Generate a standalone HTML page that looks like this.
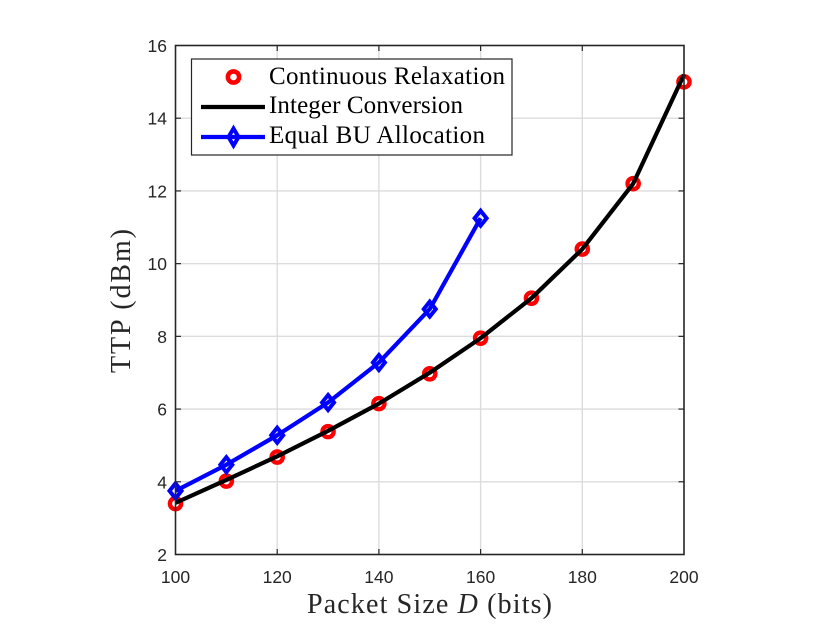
<!DOCTYPE html>
<html>
<head>
<meta charset="utf-8">
<style>
html,body{margin:0;padding:0;background:#fff;width:830px;height:624px;overflow:hidden}
svg{display:block}
.tick{font-family:"Liberation Sans",sans-serif;font-size:17.5px;fill:#262626}
.lab{font-family:"Liberation Serif",serif;fill:#262626}
.leg{font-family:"Liberation Serif",serif;font-size:25px;fill:#000}
</style>
</head>
<body>
<svg id="chart" width="830" height="624" viewBox="0 0 830 624" xmlns="http://www.w3.org/2000/svg">
<rect x="0" y="0" width="830" height="624" fill="#fff"/>
<g id="grid"></g>
<g id="series"></g>
<rect x="175.5" y="45.5" width="508.5" height="509" fill="none" stroke="#262626" stroke-width="1.6"/>
<g id="ticks"></g>
<text class="lab" x="307" y="613" font-size="28" textLength="245" lengthAdjust="spacing">Packet Size <tspan font-style="italic">D</tspan> (bits)</text>
<text class="lab" transform="translate(130,373) rotate(-90)" font-size="28" textLength="144" lengthAdjust="spacing">TTP (dBm)</text>
<g>
<rect x="191.5" y="59" width="320.5" height="96" fill="#fff" stroke="#262626" stroke-width="1.2"/>
<circle cx="233.5" cy="77" r="5.6" fill="none" stroke="#ff0000" stroke-width="4.6"/>
<text class="leg" x="269" y="84" textLength="236" lengthAdjust="spacing">Continuous Relaxation</text>
<line x1="201" y1="107" x2="265" y2="107" stroke="#000" stroke-width="4.2"/>
<text class="leg" x="269" y="113" textLength="194" lengthAdjust="spacing">Integer Conversion</text>
<line x1="201" y1="137" x2="265" y2="137" stroke="#0000ff" stroke-width="4.2"/>
<polygon points="233.5,128.5 238.5,137 233.5,145.5 228.5,137" fill="none" stroke="#0000ff" stroke-width="4"/>
<text class="leg" x="269" y="143" textLength="216" lengthAdjust="spacing">Equal BU Allocation</text>
</g>
</svg>
<script>
const xTicks = [100, 120, 140, 160, 180, 200];
const yTicks = [2, 4, 6, 8, 10, 12, 14, 16];
const relaxX = [100, 110, 120, 130, 140, 150, 160, 170, 180, 190, 200];
const relaxY = [3.4, 4.02, 4.68, 5.38, 6.15, 6.97, 7.95, 9.05, 10.4, 12.2, 15.0];
const integerX = [100, 110, 120, 130, 140, 150, 160, 170, 180, 190, 200];
const integerY = [3.42, 4.05, 4.7, 5.4, 6.15, 7.0, 7.95, 9.05, 10.4, 12.2, 15.2];
const equalX = [100, 110, 120, 130, 140, 150, 160];
const equalY = [3.75, 4.47, 5.28, 6.18, 7.28, 8.75, 11.25];

const NS = 'http://www.w3.org/2000/svg';
const X0 = 175.5, X1 = 684, Y0 = 554.5, Y1 = 45.5;
function sx(v) { return X0 + (v - 100) / (200 - 100) * (X1 - X0); }
function sy(v) { return Y0 - (v - 2) / (16 - 2) * (Y0 - Y1); }
function make(tag, parent, attrs) {
  const el = document.createElementNS(NS, tag);
  for (const k in attrs) el.setAttribute(k, attrs[k]);
  parent.appendChild(el);
  return el;
}
const grid = document.getElementById('grid');
const ticks = document.getElementById('ticks');
const series = document.getElementById('series');
const axisColor = '#262626';
const gridColor = '#dcdcdc';

xTicks.forEach(function (t) {
  const x = sx(t);
  if (t !== 100 && t !== 200) {
    const g = make('line', grid, { x1: x, x2: x, y1: Y1, y2: Y0, stroke: gridColor, 'stroke-width': 1.4 });
    
    
    const a = make('line', ticks, { x1: x, x2: x, y1: Y0, y2: Y0 - 5.5, stroke: axisColor, 'stroke-width': 1.2 });
    
    
    const b = make('line', ticks, { x1: x, x2: x, y1: Y1, y2: Y1 + 5.5, stroke: axisColor, 'stroke-width': 1.2 });
    
    
  }
  const l = make('text', ticks, { x: x, y: 583, 'text-anchor': 'middle', class: 'tick' });
  
  
  l.textContent = t;
});

yTicks.forEach(function (t) {
  const y = sy(t);
  if (t !== 2 && t !== 16) {
    const g = make('line', grid, { x1: X0, x2: X1, y1: y, y2: y, stroke: gridColor, 'stroke-width': 1.4 });
    
    
    const a = make('line', ticks, { x1: X0, x2: X0 + 5.5, y1: y, y2: y, stroke: axisColor, 'stroke-width': 1.2 });
    
    
    const b = make('line', ticks, { x1: X1, x2: X1 - 5.5, y1: y, y2: y, stroke: axisColor, 'stroke-width': 1.2 });
    
    
  }
  const l = make('text', ticks, { x: 167, y: y + 6.5, 'text-anchor': 'end', class: 'tick' });
  
  
  l.textContent = t;
});

relaxX.forEach(function (v, i) {
  const c = make('circle', series, { cx: sx(v), cy: sy(relaxY[i]), r: 5.6, fill: 'none', stroke: '#ff0000', 'stroke-width': 4.4 });
  
  
});

const integerLine = make('polyline', series, {
  points: integerX.map(function (v, i) { return sx(v) + ',' + sy(integerY[i]); }).join(' '),
  fill: 'none', stroke: '#000', 'stroke-width': 4.2, 'stroke-linejoin': 'round'
});



const equalLine = make('polyline', series, {
  points: equalX.map(function (v, i) { return sx(v) + ',' + sy(equalY[i]); }).join(' '),
  fill: 'none', stroke: '#0000ff', 'stroke-width': 4.2, 'stroke-linejoin': 'round'
});



equalX.forEach(function (v, i) {
  const x = sx(v), y = sy(equalY[i]);
  const d = make('polygon', series, {
    points: x + ',' + (y - 7.5) + ' ' + (x + 6) + ',' + y + ' ' + x + ',' + (y + 7.5) + ' ' + (x - 6) + ',' + y,
    fill: 'none', stroke: '#0000ff', 'stroke-width': 4
  });
  
  
});
</script>
</body>
</html>
